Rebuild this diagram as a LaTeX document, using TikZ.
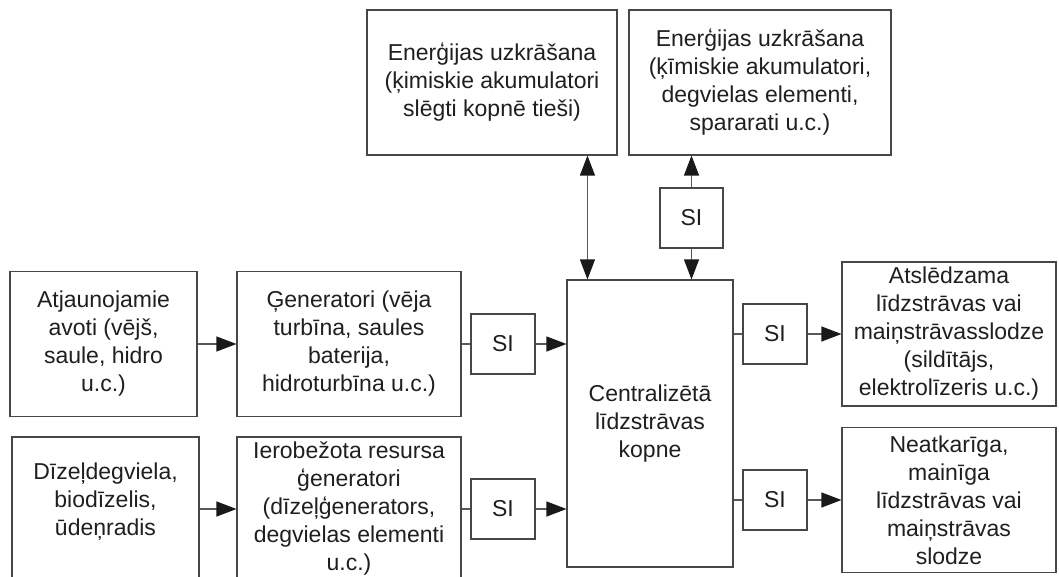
\documentclass[tikz,border=0pt]{standalone}
\usepackage{fontspec}
\setmainfont{Liberation Sans}
\usetikzlibrary{arrows.meta}
\begin{document}
\begin{tikzpicture}[x=1pt,y=-1pt,
  box/.style={draw=black!72, line width=1.1pt, inner sep=0pt, align=center,
    font=\fontsize{23}{28}\selectfont, text=black!88},
  txt/.style={inner sep=0pt, align=center, font=\fontsize{23}{28}\selectfont, text=black!88},
  conn/.style={draw=black!65, line width=1.1pt},
  tip/.style={conn, -{Triangle[length=20pt,width=15pt,color=black!90]}},
  both/.style={conn, {Triangle[length=20pt,width=15pt,color=black!90]}-{Triangle[length=20pt,width=15pt,color=black!90]}}
]
\useasboundingbox (0,0) rectangle (1059,577);
\clip (0,0) rectangle (1059,577);

% storage blocks on top
\node[box, minimum width=250pt, minimum height=145pt] (stA) at (492,82.5)
  {Enerģijas uzkrāšana\\(ķimiskie akumulatori\\slēgti kopnē tieši)};
\node[box, minimum width=262pt, minimum height=145pt] (stB) at (760,82.5)
  {Enerģijas uzkrāšana\\(ķīmiskie akumulatori,\\degvielas elementi,\\spararati u.c.)};
\node[box, minimum width=63pt, minimum height=60pt] (siT) at (691.5,218) {SI};

% central DC bus
\node[box, minimum width=166pt, minimum height=287pt] (bus) at (650,423.5)
  {Centralizētā\\līdzstrāvas\\kopne};

% sources
\node[box, minimum width=187pt, minimum height=145pt] (ren) at (103.5,344)
  {Atjaunojamie\\avoti (vējš,\\saule, hidro\\u.c.)};
\node[box, minimum width=224pt, minimum height=145pt] (gen) at (349,344)
  {Ģeneratori (vēja\\turbīna, saules\\baterija,\\hidroturbīna u.c.)};
\node[box, minimum width=64pt, minimum height=60pt] (si1) at (503,344) {SI};

\node[box, minimum width=187pt, minimum height=160pt] (dz) at (105.5,517) {};
\node[txt] (dzt) at (105.5,502) {Dīzeļdegviela,\\biodīzelis,\\ūdeņradis};
\node[box, minimum width=224pt, minimum height=144pt] (lim) at (349,509)
  {Ierobežota resursa\\ģeneratori\\(dīzeļģenerators,\\degvielas elementi\\u.c.)};
\node[box, minimum width=64pt, minimum height=60pt] (si2) at (503,509) {SI};

% loads
\node[box, minimum width=64pt, minimum height=60pt] (si3) at (775,334) {SI};
\node[box, minimum width=214pt, minimum height=144pt] (ld1) at (949,334)
  {Atslēdzama\\līdzstrāvas vai\\maiņstrāvasslodze\\(sildītājs,\\elektrolīzeris u.c.)};
\node[box, minimum width=64pt, minimum height=60pt] (si4) at (775,500) {SI};
\node[box, minimum width=214pt, minimum height=145pt] (ld2) at (949,500)
  {Neatkarīga,\\mainīga\\līdzstrāvas vai\\maiņstrāvas\\slodze};

% connectors
\draw[both] ([xshift=21pt]bus.north west) -- ([xshift=21pt]bus.north west |- stA.south);
\draw[tip] (siT.north) -- (siT.north |- stB.south);
\draw[tip] (siT.south) -- (siT.south |- bus.north);

\draw[tip] (ren.east) -- (gen.west);
\draw[conn] (gen.east) -- (si1.west);
\draw[tip] (si1.east) -- (si1.east -| bus.west);

\draw[tip] (lim.west -| dz.east) -- (lim.west);
\draw[conn] (lim.east) -- (si2.west);
\draw[tip] (si2.east) -- (si2.east -| bus.west);

\draw[conn] (si3.west -| bus.east) -- (si3.west);
\draw[tip] (si3.east) -- (ld1.west);
\draw[conn] (si4.west -| bus.east) -- (si4.west);
\draw[tip] (si4.east) -- (ld2.west);
\end{tikzpicture}
\end{document}
